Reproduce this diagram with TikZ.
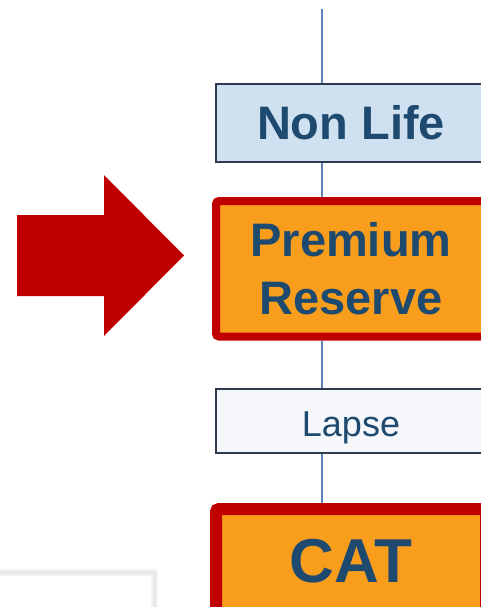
\documentclass[tikz,border=0pt]{standalone}
\usepackage{fontspec}
\setmainfont{Liberation Sans}
\definecolor{redbd}{HTML}{C00000}
\definecolor{orangef}{HTML}{F99D1C}
\definecolor{txtblue}{HTML}{1F4A70}
\definecolor{lightblue}{HTML}{CFE0F1}
\definecolor{darkbd}{HTML}{2E3B4E}
\definecolor{linec}{HTML}{5E82B8}
\definecolor{palef}{HTML}{F5F7FA}
\begin{document}
\begin{tikzpicture}[x=1pt,y=-1pt,
  box/.style={rectangle, draw=darkbd, line width=1.5pt, minimum width=270pt, inner sep=0pt, text=txtblue, align=center},
  hibox/.style={rectangle, draw=redbd, fill=orangef, rounded corners=3pt, minimum width=270pt, inner sep=0pt, text=txtblue, align=center},
  link/.style={linec, line width=2pt}]
\useasboundingbox (0,0) rectangle (481,607);
\clip (0,0) rectangle (481,607);
\fill[white] (0,0) rectangle (481,607);
% bottom-left panel
\draw[gray!10, line width=7pt] (-10,572.5) -- (154.5,572.5) -- (154.5,620);
\draw[gray!18, line width=3.5pt] (-10,572.5) -- (154.5,572.5) -- (154.5,620);
% big arrow
\fill[redbd] (17,215) -- (104,215) -- (104,175) -- (184,255.5) -- (104,336) -- (104,296) -- (17,296) -- cycle;
% boxes
\node[box, fill=lightblue, minimum height=78pt, font=\bfseries\fontsize{47}{58}\selectfont] (nonlife) at (351,123) {Non Life};
\node[hibox, line width=8pt, minimum height=135.5pt, font=\bfseries\fontsize{47}{58}\selectfont] (prem) at (351,268.75) {Premium\\Reserve};
\node[box, fill=palef, minimum height=64pt, text height=30pt, text depth=0pt, font=\fontsize{36}{43}\selectfont] (lapse) at (351,421) {Lapse};
\node[hibox, line width=12pt, minimum height=111pt, text height=47pt, text depth=12pt, font=\bfseries\fontsize{62}{74}\selectfont] (cat) at (351,564.5) {CAT};
\coordinate (top) at (321.5,9);
% connectors
\draw[link] (top) -- (top |- nonlife.north);
\draw[link] (top |- nonlife.south) -- (top |- prem.north);
\draw[link] (top |- prem.south) -- (top |- lapse.north);
\draw[link] (top |- lapse.south) -- (top |- cat.north);
\end{tikzpicture}
\end{document}
